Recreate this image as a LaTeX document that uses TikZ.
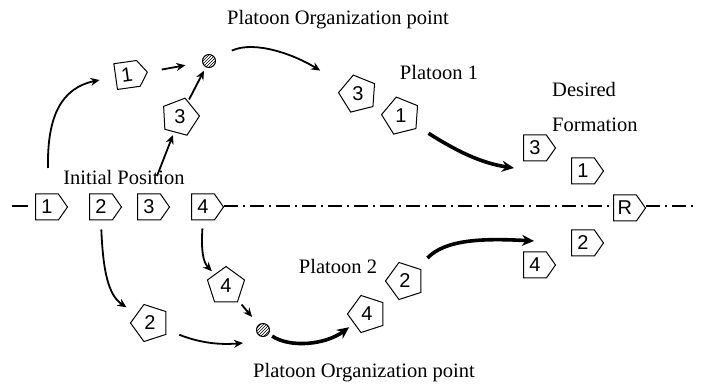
\documentclass[tikz,border=0pt]{standalone}
\usepackage{fontspec}
\setmainfont{Liberation Serif}
\newfontfamily\digitfont{Liberation Sans}
\usetikzlibrary{arrows.meta,shapes.geometric,shapes.symbols,patterns}

\begin{document}
\begin{tikzpicture}[x=1pt,y=-1pt,
  plate/.style={signal, signal to=east, signal pointer angle=110, draw,
    line width=1pt, minimum width=32pt, minimum height=26pt, inner sep=0pt,
    font=\digitfont\fontsize{20}{20}\selectfont},
  pent/.style={regular polygon, regular polygon sides=5, draw, line width=1pt,
    minimum size=39pt, inner sep=0pt, font=\digitfont\fontsize{20}{20}\selectfont},
  lbl/.style={font=\fontsize{20.5}{22}\selectfont, inner sep=0pt},
  orgpt/.style={circle, draw, line width=1pt, pattern=north east lines,
    minimum size=13pt, inner sep=0pt},
  move/.style={line width=1.8pt, -{Stealth[length=9pt,width=8pt]}},
  bigmove/.style={line width=3.6pt, -{Stealth[length=12pt,width=11pt]}},
  axisline/.style={line width=1.3pt, dash pattern=on 14pt off 5pt on 2pt off 5pt}
]
\useasboundingbox (0,0) rectangle (702,387);

% labels
\node[lbl] (orgtop) at (338,20) {Platoon Organization point};
\node[lbl] (orgbot) at (364,373) {Platoon Organization point};
\node[lbl] (pl1) at (439,72) {Platoon 1};
\node[lbl] (pl2) at (338,266) {Platoon 2};
\node[lbl, anchor=west] (des) at (552,89) {Desired};
\node[lbl, anchor=west] (form) at (552,125) {Formation};
\node[lbl] (init) at (124,177) {Initial Position};

% vehicles in the initial position
\node[plate, anchor=west] (i1) at (35,207) {1};
\node[plate, anchor=west] (i2) at (89,207) {2};
\node[plate, anchor=west] (i3) at (137,207) {3};
\node[plate, anchor=west] (i4) at (191,207) {4};

% desired formation around the reference vehicle
\node[plate, anchor=west] (d3) at (523,148) {3};
\node[plate, anchor=west] (d1) at (571,171) {1};
\node[plate, anchor=west] (dR) at (613,208) {R};
\node[plate, anchor=west] (d2) at (571,243) {2};
\node[plate, anchor=west] (d4) at (523,265) {4};

% vehicles on the way
\node[plate, rotate=8] (t1) at (127,75) {1};
\node[pent, shape border rotate=-15] (r3) at (180,117) {3};
\node[pent, shape border rotate=14] (p13) at (358,94) {3};
\node[pent, shape border rotate=14] (p11) at (401,116) {1};
\node[pent] (r4) at (226,286) {4};
\node[pent, shape border rotate=18] (r2) at (150,323) {2};
\node[pent, shape border rotate=18] (p24) at (367,314) {4};
\node[pent, shape border rotate=18] (p22) at (405,281) {2};

% platoon organization points
\node[orgpt] (o1) at (209,61) {};
\node[orgpt] (o2) at (263,330) {};

% reference line
\draw[line width=1.3pt] (12,206) -- (28,206);
\draw[axisline] (i4.east |- 0,206) -- (dR.west |- 0,206);
\draw[axisline] (dR.east |- 0,206) -- (694,206);

% free ends of the connectors
\coordinate (s1) at (48,168);
\coordinate (s3) at (157,176);
\coordinate (f1) at (514,168);
\coordinate (f2) at (534,241);
\coordinate (f3) at (243,343);

% platoon 1
\draw[move] (s1) .. controls (47,115) and (62,88) .. (t1.west) [shorten >=16pt];
\draw[move, shorten <=14pt, shorten >=17pt] (t1.east) -- (o1);
\draw[move, shorten >=3pt] (s3) -- (r3);
\draw[move, shorten <=2pt, shorten >=4pt] (r3) -- (o1);
\draw[move, shorten <=18pt, shorten >=28pt] (o1) .. controls (255,40) and (295,55) .. (p13);
\draw[bigmove, shorten <=14pt] (p11) .. controls (455,150) and (480,163) .. (f1);

% platoon 2
\draw[move, shorten <=9pt, shorten >=12pt] (i2.south) .. controls (103,270) and (108,295) .. (r2);
\draw[move, shorten <=14pt] (r2) .. controls (200,343) and (220,345) .. (f3);
\draw[move, shorten <=8pt, shorten >=4pt] (i4.south) .. controls (201,250) and (203,262) .. (r4);
\draw[move, shorten <=5pt, shorten >=10pt] (r4) -- (o2);
\draw[bigmove, shorten <=4pt, shorten >=6pt] (o2) .. controls (290,348) and (325,345) .. (p24);
\draw[bigmove, shorten <=14pt] (p22) .. controls (445,240) and (480,238) .. (f2);
\end{tikzpicture}
\end{document}
